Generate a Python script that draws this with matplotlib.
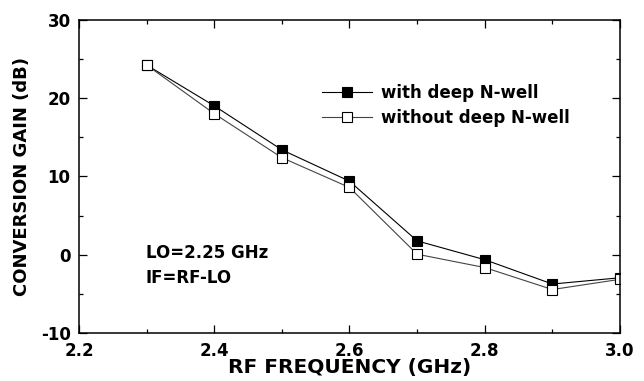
import matplotlib
matplotlib.use("Agg")
import matplotlib.pyplot as plt
from matplotlib.ticker import MultipleLocator

plt.rcParams['font.family'] = ['DejaVu Sans']
plt.rcParams['font.weight'] = 'bold'
plt.rcParams['axes.unicode_minus'] = False

# RF frequency (GHz)
freq = [2.3, 2.4, 2.5, 2.6, 2.7, 2.8, 2.9, 3.0]
# conversion gain (dB)
gain_with = [24.2, 19.0, 13.4, 9.4, 1.8, -0.6, -3.7, -2.9]
gain_without = [24.2, 18.0, 12.4, 8.6, 0.1, -1.6, -4.4, -3.1]

fig = plt.figure(figsize=(6.44, 3.81), dpi=100)
ax = fig.add_axes([0.1227, 0.1247, 0.8400, 0.8241])

ax.plot(freq, gain_with, color='black', lw=0.8, marker='s', ms=7,
        mfc='black', mec='black', mew=0.8, label='with deep N-well')
ax.plot(freq, gain_without, color='#444444', lw=0.8, marker='s', ms=7,
        mfc='white', mec='black', mew=0.8, label='without deep N-well')

ax.set_xlim(2.2, 3.0)
ax.set_ylim(-10, 30)
ax.xaxis.set_major_locator(MultipleLocator(0.2))
ax.xaxis.set_minor_locator(MultipleLocator(0.1))
ax.yaxis.set_major_locator(MultipleLocator(10))
ax.yaxis.set_minor_locator(MultipleLocator(5))
ax.tick_params(which='both', direction='in', top=True, right=True, labelsize=12, pad=6)
ax.tick_params(which='major', length=5.5, width=0.9)
ax.tick_params(which='minor', length=2.7, width=0.9)
ax.set_xticks([2.2, 2.4, 2.6, 2.8, 3.0])
ax.set_xticklabels(['2.2', '2.4', '2.6', '2.8', '3.0'])
for s in ax.spines.values():
    s.set_linewidth(1.1)

ax.set_xlabel('RF FREQUENCY (GHz)', fontsize=14.5, fontweight='bold', labelpad=-1)
ax.set_ylabel('CONVERSION GAIN (dB)', fontsize=13, fontweight='bold')
ax.yaxis.set_label_coords(-0.088, 0.5)

ax.text(0.1238, 0.2404, 'LO=2.25 GHz', transform=ax.transAxes, fontsize=12,
        fontweight='bold', va='baseline', ha='left')
ax.text(0.1238, 0.1608, 'IF=RF-LO', transform=ax.transAxes, fontsize=12,
        fontweight='bold', va='baseline', ha='left')

ax.legend(loc='upper left', bbox_to_anchor=(0.4495, 0.795), frameon=False,
          fontsize=12, borderpad=0, borderaxespad=0, handlelength=3.0,
          handletextpad=0.54, labelspacing=0.4)

fig.savefig('out.png', dpi=100)
